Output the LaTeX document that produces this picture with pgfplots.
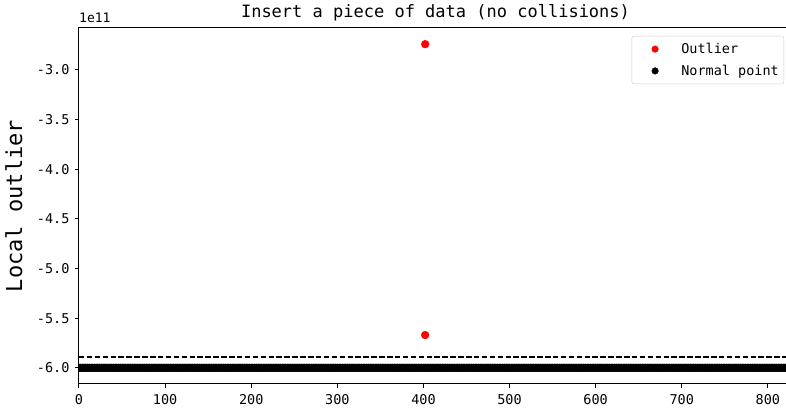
\documentclass[border=0pt]{standalone}
\usepackage{fontspec}
\setmainfont{DejaVu Sans Mono}
\usepackage{pgfplots}
\pgfplotsset{compat=1.18}

\begin{document}
\begin{tikzpicture}
\begin{axis}[
    name=ax,
    scale only axis,
    width=713pt, height=356pt,
    xmin=0, xmax=828,
    ymin=-6.163, ymax=-2.577,
    xtick={0,100,200,300,400,500,600,700,800},
    ytick={-6.0,-5.5,-5.0,-4.5,-4.0,-3.5,-3.0},
    xtick pos=left, ytick pos=left,
    tick align=outside,
    major tick length=4pt,
    axis line style={line width=1pt},
    every tick/.style={black, line width=1pt},
    clip marker paths=true,
    /pgf/number format/assume math mode=true,
    tick label style={font=\fontsize{13.5}{15}\selectfont},
    yticklabel style={xshift=-2pt, /pgf/number format/.cd, fixed, fixed zerofill, precision=1},
    xticklabel style={yshift=-3pt},
    title={Insert a piece of data (no collisions)},
    title style={font=\fontsize{17}{20}\selectfont, yshift=-3pt},
    ylabel={Local outlier},
    every axis y label/.style={at={(axis description cs:-0.0912,0.5)}, anchor=center,
        rotate=90, font=\fontsize{22}{24}\selectfont},
    legend cell align=left,
    legend style={at={(axis description cs:1,1)}, anchor=north east,
        xshift=-8pt, yshift=-8pt, draw=black!20, rounded corners=2pt,
        font=\fontsize{13.5}{16}\selectfont, row sep=6pt, inner xsep=3pt, inner ysep=5pt},
]
% legend entries
\addlegendimage{legend image code/.code={\path (0pt,0pt) (44pt,0pt);
    \fill[red] (20pt,0pt) circle[radius=3.3pt];}}
\addlegendentry{Outlier}
\addlegendimage{legend image code/.code={\path (0pt,0pt) (44pt,0pt);
    \fill[black] (20pt,0pt) circle[radius=3.3pt];}}
\addlegendentry{Normal point}
% outliers
\addplot[only marks, mark=*, mark size=3.9pt, red, mark options={draw=red, fill=red}, forget plot]
    coordinates {(402,-2.74)(402,-5.67)};
% normal points
\addplot[only marks, mark=*, mark size=3.9pt, black, forget plot] coordinates {
(0,-6)(2,-6)(4,-6)(6,-6)(8,-6)(10,-6)(12,-6)(14,-6)(16,-6)(18,-6)(20,-6)(22,-6)(24,-6)(26,-6)(28,-6)(30,-6)(32,-6)(34,-6)(36,-6)(38,-6)
(40,-6)(42,-6)(44,-6)(46,-6)(48,-6)(50,-6)(52,-6)(54,-6)(56,-6)(58,-6)(60,-6)(62,-6)(64,-6)(66,-6)(68,-6)(70,-6)(72,-6)(74,-6)(76,-6)(78,-6)
(80,-6)(82,-6)(84,-6)(86,-6)(88,-6)(90,-6)(92,-6)(94,-6)(96,-6)(98,-6)(100,-6)(102,-6)(104,-6)(106,-6)(108,-6)(110,-6)(112,-6)(114,-6)(116,-6)(118,-6)
(120,-6)(122,-6)(124,-6)(126,-6)(128,-6)(130,-6)(132,-6)(134,-6)(136,-6)(138,-6)(140,-6)(142,-6)(144,-6)(146,-6)(148,-6)(150,-6)(152,-6)(154,-6)(156,-6)(158,-6)
(160,-6)(162,-6)(164,-6)(166,-6)(168,-6)(170,-6)(172,-6)(174,-6)(176,-6)(178,-6)(180,-6)(182,-6)(184,-6)(186,-6)(188,-6)(190,-6)(192,-6)(194,-6)(196,-6)(198,-6)
(200,-6)(202,-6)(204,-6)(206,-6)(208,-6)(210,-6)(212,-6)(214,-6)(216,-6)(218,-6)(220,-6)(222,-6)(224,-6)(226,-6)(228,-6)(230,-6)(232,-6)(234,-6)(236,-6)(238,-6)
(240,-6)(242,-6)(244,-6)(246,-6)(248,-6)(250,-6)(252,-6)(254,-6)(256,-6)(258,-6)(260,-6)(262,-6)(264,-6)(266,-6)(268,-6)(270,-6)(272,-6)(274,-6)(276,-6)(278,-6)
(280,-6)(282,-6)(284,-6)(286,-6)(288,-6)(290,-6)(292,-6)(294,-6)(296,-6)(298,-6)(300,-6)(302,-6)(304,-6)(306,-6)(308,-6)(310,-6)(312,-6)(314,-6)(316,-6)(318,-6)
(320,-6)(322,-6)(324,-6)(326,-6)(328,-6)(330,-6)(332,-6)(334,-6)(336,-6)(338,-6)(340,-6)(342,-6)(344,-6)(346,-6)(348,-6)(350,-6)(352,-6)(354,-6)(356,-6)(358,-6)
(360,-6)(362,-6)(364,-6)(366,-6)(368,-6)(370,-6)(372,-6)(374,-6)(376,-6)(378,-6)(380,-6)(382,-6)(384,-6)(386,-6)(388,-6)(390,-6)(392,-6)(394,-6)(396,-6)(398,-6)
(400,-6)(402,-6)(404,-6)(406,-6)(408,-6)(410,-6)(412,-6)(414,-6)(416,-6)(418,-6)(420,-6)(422,-6)(424,-6)(426,-6)(428,-6)(430,-6)(432,-6)(434,-6)(436,-6)(438,-6)
(440,-6)(442,-6)(444,-6)(446,-6)(448,-6)(450,-6)(452,-6)(454,-6)(456,-6)(458,-6)(460,-6)(462,-6)(464,-6)(466,-6)(468,-6)(470,-6)(472,-6)(474,-6)(476,-6)(478,-6)
(480,-6)(482,-6)(484,-6)(486,-6)(488,-6)(490,-6)(492,-6)(494,-6)(496,-6)(498,-6)(500,-6)(502,-6)(504,-6)(506,-6)(508,-6)(510,-6)(512,-6)(514,-6)(516,-6)(518,-6)
(520,-6)(522,-6)(524,-6)(526,-6)(528,-6)(530,-6)(532,-6)(534,-6)(536,-6)(538,-6)(540,-6)(542,-6)(544,-6)(546,-6)(548,-6)(550,-6)(552,-6)(554,-6)(556,-6)(558,-6)
(560,-6)(562,-6)(564,-6)(566,-6)(568,-6)(570,-6)(572,-6)(574,-6)(576,-6)(578,-6)(580,-6)(582,-6)(584,-6)(586,-6)(588,-6)(590,-6)(592,-6)(594,-6)(596,-6)(598,-6)
(600,-6)(602,-6)(604,-6)(606,-6)(608,-6)(610,-6)(612,-6)(614,-6)(616,-6)(618,-6)(620,-6)(622,-6)(624,-6)(626,-6)(628,-6)(630,-6)(632,-6)(634,-6)(636,-6)(638,-6)
(640,-6)(642,-6)(644,-6)(646,-6)(648,-6)(650,-6)(652,-6)(654,-6)(656,-6)(658,-6)(660,-6)(662,-6)(664,-6)(666,-6)(668,-6)(670,-6)(672,-6)(674,-6)(676,-6)(678,-6)
(680,-6)(682,-6)(684,-6)(686,-6)(688,-6)(690,-6)(692,-6)(694,-6)(696,-6)(698,-6)(700,-6)(702,-6)(704,-6)(706,-6)(708,-6)(710,-6)(712,-6)(714,-6)(716,-6)(718,-6)
(720,-6)(722,-6)(724,-6)(726,-6)(728,-6)(730,-6)(732,-6)(734,-6)(736,-6)(738,-6)(740,-6)(742,-6)(744,-6)(746,-6)(748,-6)(750,-6)(752,-6)(754,-6)(756,-6)(758,-6)
(760,-6)(762,-6)(764,-6)(766,-6)(768,-6)(770,-6)(772,-6)(774,-6)(776,-6)(778,-6)(780,-6)(782,-6)(784,-6)(786,-6)(788,-6)(790,-6)(792,-6)(794,-6)(796,-6)(798,-6)
(800,-6)(802,-6)(804,-6)(806,-6)(808,-6)(810,-6)(812,-6)(814,-6)(816,-6)(818,-6)(820,-6)(822,-6)(824,-6)(826,-6)(828,-6)
};
% threshold
\addplot[black, line width=1.6pt, dash pattern=on 5.5pt off 2.4pt, forget plot]
    coordinates {(0,-5.892)(828,-5.892)};
\end{axis}
\node[anchor=base west, inner sep=0pt, yshift=5pt, font=\fontsize{13}{15}\selectfont]
    at (ax.north west) {1e11};
\pgfresetboundingbox
\path[use as bounding box] ([xshift=-79pt,yshift=-30pt]ax.south west)
    rectangle ([xshift=-6pt,yshift=28pt]ax.north east);
\end{tikzpicture}
\end{document}
